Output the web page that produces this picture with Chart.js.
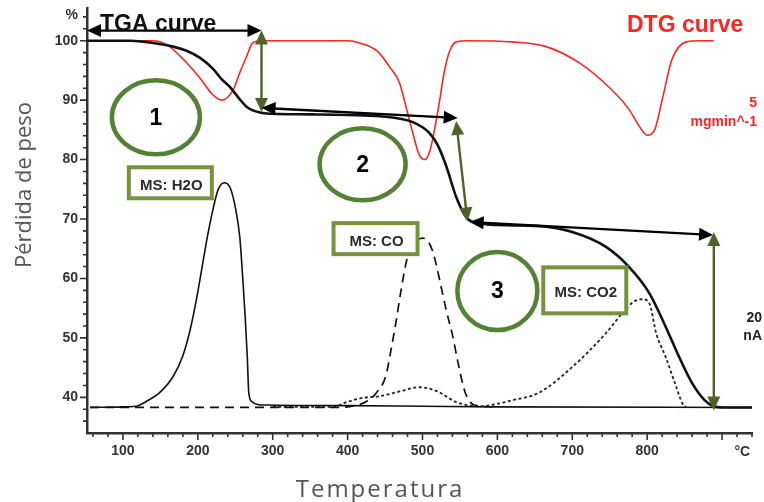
<!DOCTYPE html>
<html lang="es">
<head>
<meta charset="utf-8">
<title>TGA / DTG / MS</title>
<script src="https://cdn.jsdelivr.net/npm/chart.js@4.4.1/dist/chart.umd.min.js"></script>
<style>
  html, body { margin: 0; padding: 0; background: #fff; }
  canvas { display: block; }
</style>
</head>
<body>
<canvas id="chart" width="764" height="502"></canvas>
<script>
// curves: temperature (°C) -> value on the % axis
const tgaT = [52, 110, 136, 167, 185, 203, 220, 232, 243, 255, 265, 283, 300, 350, 400, 443, 487, 509, 520, 532, 545, 559, 576, 600, 656, 700, 745, 776, 803, 825, 843, 860, 877, 889, 900, 940];
const tgaW = [100, 100, 99.7, 99.0, 98.3, 97.1, 95.3, 93.5, 92.2, 90.3, 88.9, 87.9, 87.7, 87.6, 87.5, 87.3, 86.3, 84.5, 82.5, 78.8, 73.7, 70.2, 69.3, 69.0, 68.8, 67.8, 65.3, 61.9, 57.5, 51.8, 46.7, 42.4, 39.5, 38.5, 38.3, 38.3];

const dtgT = [52, 140, 159, 185, 203, 220, 232, 247, 256, 265, 273, 283, 400, 416, 440, 456, 469, 479, 487, 495, 503, 510, 516, 523, 528, 535, 545, 560, 620, 665, 709, 753, 776, 790, 800, 810, 820, 833, 852, 870, 889];
const dtgV = [100, 100, 99.3, 96.3, 93.7, 90.9, 90, 91.7, 94.6, 97.3, 99.6, 100, 100, 99.6, 98.2, 95.6, 93, 88.4, 84.5, 81, 80, 81.5, 85, 90, 94, 97.8, 99.8, 100, 99.8, 99, 96.3, 91.7, 88.4, 85.5, 84.1, 85, 90, 96.8, 99.8, 100, 100];

const h2oT = [56, 100, 120, 131, 149, 167, 180, 190, 198, 205, 212, 220, 227, 235, 243, 250, 256, 260, 263, 266, 268, 272, 280, 292, 400, 500, 600, 940];
const h2oV = [38.3, 38.4, 38.6, 39.3, 40.8, 43.5, 47, 51.5, 56.4, 61.4, 66.5, 71.5, 74.9, 76.1, 75.3, 72, 67, 60, 54, 47, 40.8, 39.3, 38.8, 38.7, 38.6, 38.5, 38.4, 38.3];

const coT = [56, 380, 410, 425, 438, 451, 458, 465, 472, 479, 488, 500, 507, 513, 518, 523, 532, 540, 548, 556, 563, 572, 600];
const coV = [38.3, 38.3, 38.6, 39.3, 40.7, 43.6, 48, 53, 58.5, 63.1, 65.8, 66.8, 66.3, 64.8, 62.5, 59.7, 54.5, 50.5, 45.5, 41.2, 39.3, 38.6, 38.4];

const co2T = [300, 380, 399, 420, 443, 470, 496, 520, 545, 576, 620, 656, 700, 745, 767, 782, 793, 803, 812, 825, 839, 847, 852];
const co2V = [38.4, 38.4, 39.2, 39.9, 40.2, 41.0, 41.7, 41.0, 39.2, 38.5, 39.5, 40.8, 45.1, 50.8, 54.2, 56.1, 56.5, 55.8, 50.8, 46.7, 41.7, 39.0, 38.3];

// axis ticks
const xMajor = [100, 200, 300, 400, 500, 600, 700, 800, 900];
const xMajorLabels = ['100', '200', '300', '400', '500', '600', '700', '800', ''];
const yMajor = [40, 50, 60, 70, 80, 90, 100];
const yMajorLabels = ['40', '50', '60', '70', '80', '90', '100'];

// annotations, in data units
const arrowFrom = [[52, 101.7], [285, 101.7], [285, 88.7], [545, 86.5], [563, 69.5], [889, 67.8]];
const arrowTo = [[285, 101.7], [285, 88.0], [547, 87.0], [560, 69.6], [888, 67.3], [889, 37.8]];
const arrowGreen = [false, true, false, true, false, true];
const stepLabels = ['1', '2', '3'];
const stepCentre = [[144, 87.1], [420, 79.2], [600, 57.9]];
const stepRadius = [[44, 37], [43, 36], [40, 39]];
const msLabels = ['MS: H2O', 'MS: CO', 'MS: CO2'];
const msCentre = [[163.3, 76.1], [437.3, 66.7], [716.7, 58.0]];
const msSize = [[83, 31], [84, 31], [83, 46]];

const GREEN_RING = '#548235';
const GREEN_BOX = '#77933c';
const GREEN_ARROW = '#4f6228';
const RED = '#ff2424';
const FONT = '"Liberation Sans", Arial, sans-serif';
const TITLE_FONT = '"Open Sans", "DejaVu Sans", sans-serif';

const pts = (xs, ys) => xs.map((x, i) => ({ x, y: ys[i] }));

function steps(from, to, step) {
  const out = [];
  for (let v = from; v <= to; v += step) out.push({ value: v });
  return out;
}

function arrowHead(ctx, x1, y1, x2, y2, len, wid) {
  const a = Math.atan2(y2 - y1, x2 - x1);
  const bx = x2 - len * Math.cos(a), by = y2 - len * Math.sin(a);
  ctx.beginPath();
  ctx.moveTo(x2, y2);
  ctx.lineTo(bx + wid / 2 * Math.sin(a), by - wid / 2 * Math.cos(a));
  ctx.lineTo(bx - wid / 2 * Math.sin(a), by + wid / 2 * Math.cos(a));
  ctx.closePath();
  ctx.fill();
}

function doubleArrow(ctx, x1, y1, x2, y2, color) {
  const a = Math.atan2(y2 - y1, x2 - x1);
  const len = 14;
  ctx.save();
  ctx.strokeStyle = color;
  ctx.fillStyle = color;
  ctx.lineWidth = 2.4;
  ctx.beginPath();
  ctx.moveTo(x1 + (len - 2) * Math.cos(a), y1 + (len - 2) * Math.sin(a));
  ctx.lineTo(x2 - (len - 2) * Math.cos(a), y2 - (len - 2) * Math.sin(a));
  ctx.stroke();
  arrowHead(ctx, x1, y1, x2, y2, len, 13);
  arrowHead(ctx, x2, y2, x1, y1, len, 13);
  ctx.restore();
}

const annotations = {
  id: 'annotations',
  afterDatasetsDraw(chart) {
    const { ctx, scales: { x, y } } = chart;
    const P = ([a, b]) => [x.getPixelForValue(a), y.getPixelForValue(b)];

    arrowFrom.forEach((f, i) => {
      const [x1, y1] = P(f);
      const [x2, y2] = P(arrowTo[i]);
      doubleArrow(ctx, x1, y1, x2, y2, arrowGreen[i] ? GREEN_ARROW : '#000');
    });

    ctx.save();
    stepLabels.forEach((lab, i) => {
      const [cx, cy] = P(stepCentre[i]);
      ctx.beginPath();
      ctx.ellipse(cx, cy, stepRadius[i][0], stepRadius[i][1], 0, 0, Math.PI * 2);
      ctx.strokeStyle = GREEN_RING;
      ctx.lineWidth = 4.5;
      ctx.stroke();
      ctx.fillStyle = '#000';
      ctx.font = `bold 23px ${FONT}`;
      ctx.textAlign = 'center';
      ctx.textBaseline = 'middle';
      ctx.fillText(lab, cx, cy + 1);
    });

    msLabels.forEach((lab, i) => {
      const [cx, cy] = P(msCentre[i]);
      const [w, h] = msSize[i];
      ctx.fillStyle = '#fff';
      ctx.fillRect(cx - w / 2, cy - h / 2, w, h);
      ctx.strokeStyle = GREEN_BOX;
      ctx.lineWidth = 4;
      ctx.strokeRect(cx - w / 2, cy - h / 2, w, h);
      ctx.fillStyle = '#2a2a2a';
      ctx.font = `bold 15px ${FONT}`;
      ctx.textAlign = 'center';
      ctx.textBaseline = 'middle';
      ctx.fillText(lab, cx + 1, cy + 3);
    });
    ctx.restore();
  },
  afterDraw(chart) {
    const { ctx, chartArea: area, scales: { x, y } } = chart;
    ctx.save();
    // tick marks, major longer than minor
    ctx.strokeStyle = '#333';
    ctx.lineWidth = 1.6;
    ctx.beginPath();
    x.ticks.forEach(t => {
      const px = x.getPixelForValue(t.value);
      const len = xMajor.includes(t.value) ? 7 : 4;
      ctx.moveTo(px, area.bottom);
      ctx.lineTo(px, area.bottom + len);
    });
    y.ticks.forEach(t => {
      const py = y.getPixelForValue(t.value);
      const len = yMajor.includes(t.value) ? 7 : 4;
      ctx.moveTo(area.left, py);
      ctx.lineTo(area.left - len, py);
    });
    ctx.stroke();

    ctx.fillStyle = '#333';
    ctx.font = `bold 14px ${FONT}`;
    ctx.textAlign = 'center';
    ctx.textBaseline = 'middle';
    ctx.fillText('°C', x.getPixelForValue(927), 452);
    ctx.textAlign = 'right';
    ctx.fillText('%', 78, 15);

    // axis titles
    ctx.fillStyle = '#555';
    ctx.font = `22px ${TITLE_FONT}`;
    ctx.textAlign = 'center';
    ctx.textBaseline = 'alphabetic';
    ctx.save();
    ctx.translate(31, 185);
    ctx.rotate(-Math.PI / 2);
    ctx.fillText('Pérdida de peso', 0, 0);
    ctx.restore();
    ctx.font = `24px ${TITLE_FONT}`;
    ctx.letterSpacing = '2px';
    ctx.fillText('Temperatura', 380, 497);
    ctx.letterSpacing = '0px';

    // curve names and side scale labels
    ctx.textAlign = 'left';
    ctx.font = `bold 23px ${FONT}`;
    ctx.fillStyle = '#111';
    ctx.fillText('TGA curve', 100, 31);
    ctx.fillStyle = RED;
    ctx.fillText('DTG curve', 627, 32);
    ctx.textAlign = 'right';
    ctx.textBaseline = 'middle';
    ctx.font = `bold 14px ${FONT}`;
    ctx.fillText('5', 757, 103);
    ctx.fillText('mgmin^-1', 757, 122);
    ctx.fillStyle = '#222';
    ctx.fillText('20', 762, 318);
    ctx.fillText('nA', 762, 336);
    ctx.restore();
  }
};

new Chart(document.getElementById('chart'), {
  type: 'line',
  data: {
    datasets: [
      { label: 'TGA', data: pts(tgaT, tgaW), borderColor: '#111', borderWidth: 2.6 },
      { label: 'MS H2O', data: pts(h2oT, h2oV), borderColor: '#111', borderWidth: 1.6 },
      { label: 'MS CO', data: pts(coT, coV), borderColor: '#111', borderWidth: 1.7, borderDash: [9, 6] },
      { label: 'MS CO2', data: pts(co2T, co2V), borderColor: '#222', borderWidth: 1.8, borderDash: [3, 2.5] },
      { label: 'DTG', data: pts(dtgT, dtgV), borderColor: RED, borderWidth: 1.6 },
    ],
  },
  options: {
    responsive: false,
    animation: false,
    layout: { padding: { left: 0, right: 12, top: 8, bottom: 0 } },
    elements: {
      point: { radius: 0 },
      line: { cubicInterpolationMode: 'monotone', fill: false },
    },
    plugins: { legend: { display: false }, tooltip: { enabled: false } },
    scales: {
      x: {
        type: 'linear',
        min: 52,
        max: 940,
        afterBuildTicks: s => { s.ticks = steps(60, 940, 20); },
        afterFit: s => { s.height = 69; s.paddingRight = 0; s.paddingLeft = 0; },
        grid: { display: false, drawTicks: false },
        border: { display: true, color: '#333', width: 2.5 },
        ticks: {
          autoSkip: false,
          maxRotation: 0,
          padding: 10,
          color: '#333',
          font: { family: FONT, size: 14, weight: 'bold' },
          callback: v => { const i = xMajor.indexOf(v); return i < 0 ? '' : xMajorLabels[i]; },
        },
      },
      y: {
        type: 'linear',
        min: 34,
        max: 105.5,
        afterBuildTicks: s => { s.ticks = steps(36, 104, 2); },
        afterFit: s => { s.width = 87; s.paddingTop = 0; s.paddingBottom = 0; },
        grid: { display: false, drawTicks: false },
        border: { display: true, color: '#333', width: 2.5 },
        ticks: {
          autoSkip: false,
          padding: 9,
          color: '#333',
          font: { family: FONT, size: 14, weight: 'bold' },
          callback: v => { const i = yMajor.indexOf(v); return i < 0 ? '' : yMajorLabels[i]; },
        },
      },
    },
  },
  plugins: [annotations],
});
</script>
</body>
</html>
